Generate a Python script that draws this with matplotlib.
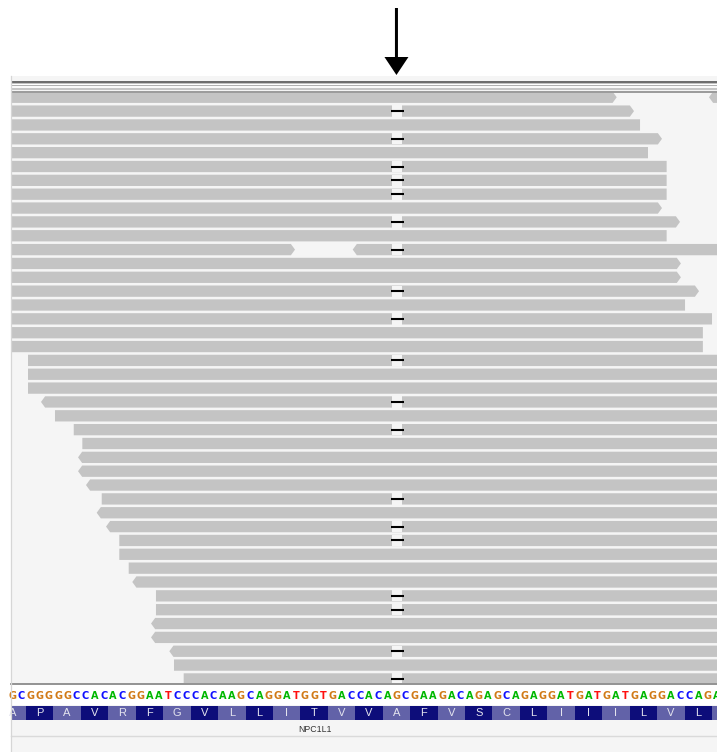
import matplotlib
matplotlib.use("Agg")
import matplotlib.pyplot as plt
from matplotlib.patches import Polygon, Rectangle, FancyArrow

# ---------------- data (genome coordinates in bases) ----------------
read_rows = [0, 0, 1, 2, 3, 4, 5, 6, 7, 8, 9, 10, 11, 11, 12, 13, 14, 15, 16, 17, 18,
             19, 20, 21, 22, 23, 24, 25, 26, 27, 28, 29, 30, 31, 32, 33, 34, 35, 36,
             37, 38, 39, 40, 41, 42]
read_starts = [-3, 76.67, -3, -3, -3, -3, -3, -3, -3, -3, -3, -3, -3, 37.72, -3, -3, -3,
               -3, -3, -3, -3,
               2.22, 2.22, 2.22, 3.64, 5.17, 7.22, 8.16, 7.69, 7.69, 8.56, 10.28, 9.73,
               10.75, 12.2, 12.2, 13.23, 13.62, 16.21, 16.21, 15.67, 15.67, 17.67, 18.18,
               19.24]
read_ends = [66.58, 81, 68.47, 69.13, 71.53, 70.0, 72.04, 72.04, 72.04, 71.53, 73.5, 72.04,
             31.41, 81, 73.6, 73.6, 75.58, 74.05, 77.0, 76.0, 76.0,
             81, 81, 81, 81, 81, 81, 81, 81, 81, 81, 81, 81, 81, 81, 81, 81, 81, 81, 81,
             81, 81, 81, 81, 81]
read_strands = ['+', '-', '+', '-', '+', '-', '-', '-', '-', '+', '+', '-', '+', '-', '+',
                '+', '+', '-', '-', '-', '-',
                '+', '+', '+', '-', '+', '+', '+', '-', '-', '-', '+', '-', '-', '+', '+',
                '+', '-', '+', '+', '-', '-', '-', '+', '+']
deletion_rows = [1, 3, 5, 6, 7, 9, 11, 14, 16, 19, 22, 24, 29, 31, 32, 36, 37, 40, 42]
deletion_pos = 42
reference_seq = ("GCGGGGGCCACACGGAATCCCACAAGCAGGATGGTGACC"
                 "ACAGCGAAGACAGAGCAGAGGATGATGATGAGGACCAGA")
amino_acids = ['A', 'P', 'A', 'V', 'R', 'F', 'G', 'V', 'L', 'L', 'I', 'T', 'V', 'V',
               'A', 'F', 'V', 'S', 'C', 'L', 'I', 'I', 'I', 'L', 'V', 'L', '']
gene_name = "NPC1L1"

# ---------------- styling / geometry ----------------
W, H = 717, 752
BASE_W, BASE0 = 9.147, 7.7          # pixel width of a base, pixel of base 0
PANEL_L, PANEL_R = 11, 717
READS_TOP, READS_BOT = 76, 683
ROW_TOP0, ROW_PITCH, ROW_H = 91.6, 13.85, 11.3
ARROW_W = 0.45                      # arrow-head length in bases
READ_COLOR = '#c4c4c4'
BG = '#f5f5f5'
BASE_COLORS = {'A': '#00b800', 'C': '#1010ff', 'G': '#d17a16', 'T': '#ff1010'}
AA_DARK, AA_LIGHT = '#0d0d7a', '#6262a8'

fig = plt.figure(figsize=(W / 100, H / 100), dpi=100)
fig.patch.set_facecolor('white')

xlim = ((PANEL_L - BASE0) / BASE_W, (PANEL_R - BASE0) / BASE_W)


def ax_box(x0, y0, x1, y1):
    return [x0 / W, 1 - y1 / H, (x1 - x0) / W, (y1 - y0) / H]


# background canvas (pixel coords)
bg = fig.add_axes([0, 0, 1, 1])
bg.set_xlim(0, W)
bg.set_ylim(H, 0)
bg.axis('off')
bg.add_patch(Rectangle((PANEL_L, READS_TOP), PANEL_R - PANEL_L, H - READS_TOP,
                       fc=BG, ec='none'))
bg.add_patch(Rectangle((PANEL_L, 684), PANEL_R - PANEL_L, 21, fc='white', ec='none'))

# ---------------- reads ----------------
ax = fig.add_axes(ax_box(PANEL_L, READS_TOP, PANEL_R, READS_BOT))
ax.set_facecolor('none')
ax.set_xlim(*xlim)
ax.set_ylim(READS_BOT, READS_TOP)
ax.axis('off')

for r, s, e, st in zip(read_rows, read_starts, read_ends, read_strands):
    top = ROW_TOP0 + r * ROW_PITCH
    bot = top + ROW_H
    mid = (top + bot) / 2
    if st == '+':
        pts = [(s, top), (e - ARROW_W, top), (e, mid), (e - ARROW_W, bot), (s, bot)]
    else:
        pts = [(s, mid), (s + ARROW_W, top), (e, top), (e, bot), (s + ARROW_W, bot)]
    ax.add_patch(Polygon(pts, closed=True, fc=READ_COLOR, ec='none', zorder=2))

for r in deletion_rows:
    top = ROW_TOP0 + r * ROW_PITCH
    ax.add_patch(Rectangle((deletion_pos, top), 1.1, ROW_H, fc=BG, ec='none', zorder=3))
    ax.plot([deletion_pos - 0.1, deletion_pos + 1.3], [top + ROW_H / 2] * 2,
            color='black', lw=1.5, solid_capstyle='butt', zorder=4)

# header stripes of the alignment panel
for y0, y1, c in [(81, 83.3, '#6e6e6e'), (83.3, 84.3, '#c2c2c2'), (84.3, 85.3, '#ffffff'),
                  (85.3, 86.4, '#b0b0b0'), (86.4, 88.3, '#fafafa'), (88.3, 89.7, '#c6c6c6'),
                  (89.7, 91.0, '#f4f4f4'), (91.0, 93.3, '#9c9c9c')]:
    ax.axhspan(y0, y1, color=c, lw=0, zorder=5)

# ---------------- sequence / translation track ----------------
sx = fig.add_axes(ax_box(PANEL_L, READS_BOT, PANEL_R, H))
sx.set_facecolor('none')
sx.set_xlim(*xlim)
sx.set_ylim(H, READS_BOT)
sx.axis('off')

for i, b in enumerate(reference_seq):
    sx.text(i + 0.5, 695.8, b, color=BASE_COLORS[b], fontsize=7, fontweight='bold',
            ha='center', va='center', family='DejaVu Sans')

for k, aa in enumerate(amino_acids):
    x0 = -1 + 3 * k
    sx.add_patch(Rectangle((x0, 706), 3, 14, fc=AA_LIGHT if k % 2 == 0 else AA_DARK,
                           ec='none'))
    if aa:
        sx.text(x0 + 1.5, 713.3, aa, color='#e4e4ee', fontsize=8, ha='center',
                va='center', family='Liberation Sans')

sx.text(33.6, 729.5, gene_name, fontsize=6.3, color='#333333', ha='center', va='center',
        family='Liberation Sans')

# ---------------- overlay (pixel coords) ----------------
fg = fig.add_axes([0, 0, 1, 1])
fg.set_facecolor('none')
fg.set_xlim(0, W)
fg.set_ylim(H, 0)
fg.axis('off')
fg.plot([PANEL_L, PANEL_R], [683.6, 683.6], color='#8a8a8a', lw=1.3)
fg.plot([PANEL_L, PANEL_R], [736.2, 736.2], color='#dadada', lw=1.0)
fg.plot([PANEL_L, PANEL_L], [READS_TOP, H], color='#d6d6d6', lw=0.9)

arrow_x = BASE0 + BASE_W * (deletion_pos + 0.5)
fg.add_patch(FancyArrow(arrow_x, 8, 0, 67, width=3, head_width=24, head_length=18,
                        length_includes_head=True, fc='black', ec='none'))

fig.savefig('out.png', dpi=100, facecolor='white')
